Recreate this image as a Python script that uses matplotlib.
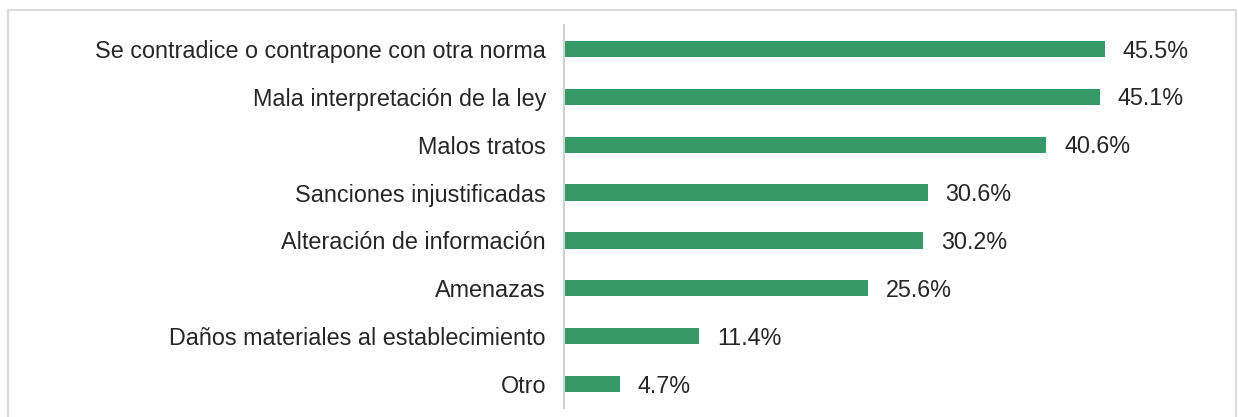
import matplotlib.pyplot as plt
from matplotlib.patches import Rectangle

plt.rcParams['font.family'] = ['Liberation Sans', 'DejaVu Sans']

categorias = [
    'Se contradice o contrapone con otra norma',
    'Mala interpretación de la ley',
    'Malos tratos',
    'Sanciones injustificadas',
    'Alteración de información',
    'Amenazas',
    'Daños materiales al establecimiento',
    'Otro',
]
porcentajes = [45.5, 45.1, 40.6, 30.6, 30.2, 25.6, 11.4, 4.7]
etiquetas = [f'{v:.1f}%' for v in porcentajes]

verde = '#359a68'
texto = '#262626'

fig = plt.figure(figsize=(12.38, 4.17), dpi=100)
fig.patch.set_facecolor('white')

# marco gris alrededor del gráfico
fig.patches.append(Rectangle((8 / 1238, -0.01), 1228 / 1238, 1 - 10 / 417 + 0.01,
                             transform=fig.transFigure, fill=False,
                             edgecolor='#dcdcdc', linewidth=1.6))

ax = fig.add_axes([564 / 1238, 1 - 408 / 417, (1158 - 564) / 1238, (408 - 25) / 417])
y = range(len(categorias))
ax.barh(y, porcentajes, height=0.34, color=verde, align='center')
ax.set_ylim(len(categorias) - 0.5, -0.5)
ax.set_xlim(0, 50)

for yi, v, lab in zip(y, porcentajes, etiquetas):
    ax.annotate(lab, (v, yi), xytext=(13, -1.5), textcoords='offset points',
                va='center', ha='left', fontsize=16.8, color=texto)

ax.set_yticks(list(y))
ax.set_yticklabels(categorias, fontsize=16.8, color=texto)
ax.tick_params(axis='y', length=0, pad=13)
ax.set_xticks([])
for s in ['top', 'right', 'bottom']:
    ax.spines[s].set_visible(False)
ax.spines['left'].set_color('#d0d0d0')
ax.spines['left'].set_linewidth(1.5)

fig.savefig('out.png', dpi=100)
